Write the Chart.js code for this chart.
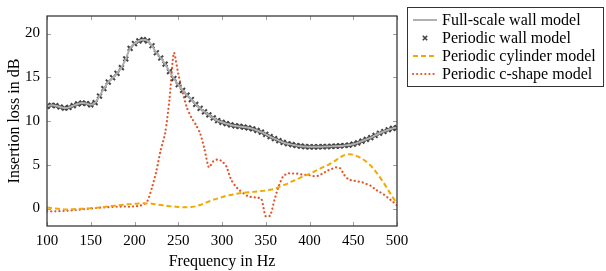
<!DOCTYPE html>
<html>
<head>
<script src="https://cdn.jsdelivr.net/npm/chart.js@4.4.0/dist/chart.umd.min.js"></script>
<style>
  body { margin: 0; background: #fff; }
  canvas { display: block; }
</style>
</head>
<body>
<canvas id="myChart" width="606" height="271"></canvas>
<script>

const freq = [100, 105, 110, 115, 120, 125, 130, 135, 140, 145, 150, 155, 160, 165, 170, 175, 180, 185, 190, 195,
  200, 205, 210, 215, 220, 225, 230, 235, 240, 245, 250, 255, 260, 265, 270, 275, 280, 285, 290, 295,
  300, 305, 310, 315, 320, 325, 330, 335, 340, 345, 350, 355, 360, 365, 370, 375, 380, 385, 390, 395,
  400, 405, 410, 415, 420, 425, 430, 435, 440, 445, 450, 455, 460, 465, 470, 475, 480, 485, 490, 495, 500];

const wallFull = [11.66, 11.8, 11.75, 11.6, 11.48, 11.55, 11.75, 11.95, 12.05, 12.0, 11.85, 12.1, 12.85, 13.7, 14.45, 14.95, 15.45, 16.1, 17.1, 18.3,
  18.85, 19.15, 19.3, 19.15, 18.6, 17.8, 17.2, 16.5, 15.65, 14.85, 14.15, 13.5, 12.95, 12.45, 11.9, 11.45, 11.05, 10.7, 10.35, 10.05,
  9.85, 9.7, 9.55, 9.45, 9.38, 9.3, 9.22, 9.1, 8.92, 8.72, 8.48, 8.22, 7.98, 7.75, 7.55, 7.4, 7.3, 7.2, 7.12, 7.08,
  7.05, 7.05, 7.05, 7.07, 7.08, 7.1, 7.12, 7.15, 7.2, 7.25, 7.35, 7.5, 7.7, 7.9, 8.1, 8.35, 8.6, 8.8, 9.0, 9.15, 9.25];

const wallPeriodic = [11.66, 11.8, 11.75, 11.6, 11.48, 11.55, 11.75, 11.95, 12.05, 12.0, 11.85, 12.1, 12.85, 13.7, 14.45, 14.95, 15.45, 16.1, 17.1, 18.3,
  18.85, 19.15, 19.3, 19.15, 18.6, 17.8, 17.2, 16.5, 15.65, 14.85, 14.15, 13.5, 12.95, 12.45, 11.9, 11.45, 11.05, 10.7, 10.35, 10.05,
  9.85, 9.7, 9.55, 9.45, 9.38, 9.3, 9.22, 9.1, 8.92, 8.72, 8.48, 8.22, 7.98, 7.75, 7.55, 7.4, 7.3, 7.2, 7.12, 7.08,
  7.05, 7.05, 7.05, 7.07, 7.08, 7.1, 7.12, 7.15, 7.2, 7.25, 7.35, 7.5, 7.7, 7.9, 8.1, 8.35, 8.6, 8.8, 9.0, 9.15, 9.25];

const cylinder = [0.1, 0.05, 0.0, -0.05, -0.1, -0.1, -0.08, -0.05, -0.03, 0, 0.03, 0.07, 0.12, 0.18, 0.25, 0.3, 0.35, 0.4, 0.45, 0.5,
  0.55, 0.58, 0.6, 0.58, 0.55, 0.48, 0.4, 0.33, 0.27, 0.22, 0.18, 0.15, 0.15, 0.18, 0.25, 0.4, 0.6, 0.8, 1.0, 1.15,
  1.3, 1.45, 1.55, 1.65, 1.75, 1.8, 1.85, 1.9, 1.95, 2.0, 2.05, 2.15, 2.25, 2.45, 2.65, 2.85, 3.1, 3.3, 3.55, 3.75,
  3.95, 4.2, 4.45, 4.7, 4.9, 5.2, 5.5, 5.85, 6.1, 6.2, 6.15, 5.95, 5.7, 5.35, 4.9, 4.3, 3.65, 2.9, 2.1, 1.3, 0.6];

const cshape = [-0.32, -0.33, -0.32, -0.3, -0.28, -0.25, -0.2, -0.15, -0.1, -0.05, 0, 0.05, 0.1, 0.12, 0.15, 0.18, 0.2, 0.22, 0.22, 0.2,
  0.25, 0.3, 0.45, 0.9, 2.4, 4.3, 6.7, 8.6, 12.5, 17.8, 15.4, 13.3, 11.5, 10.4, 9.6, 8.6, 6.8, 4.7, 5.4, 5.6,
  5.4, 4.8, 3.4, 2.6, 2.1, 1.7, 1.4, 1.3, 1.25, 1.1, -0.9, -0.8, 1.0, 2.6, 3.7, 4.0, 4.0, 4.0, 3.9, 3.85,
  3.8, 3.7, 3.75, 4.0, 4.3, 4.5, 4.7, 4.6, 3.8, 3.3, 3.2, 3.1, 3.0, 2.8, 2.6, 2.2, 1.9, 1.6, 1.2, 0.8, 0.35];

const xTicks = [100, 150, 200, 250, 300, 350, 400, 450, 500];
const yTicks = [0, 5, 10, 15, 20];

const seriesNames = ['Full-scale wall model', 'Periodic wall model', 'Periodic cylinder model', 'Periodic c-shape model'];

function pairs(ys) {
  return ys.map((y, i) => ({ x: freq[i], y: y }));
}

const serif = "'Liberation Serif', 'DejaVu Serif', serif";

// frame with inward ticks, pgfplots style
const framePlugin = {
  id: 'frame',
  afterDatasetsDraw(chart) {
    const ctx = chart.ctx;
    const a = chart.chartArea;
    const xs = chart.scales.x, ys = chart.scales.y;
    ctx.save();
    ctx.strokeStyle = '#888';
    ctx.lineWidth = 0.8;
    ctx.beginPath();
    xTicks.forEach(v => {
      const px = Math.round(xs.getPixelForValue(v)) + 0.5;
      ctx.moveTo(px, a.bottom); ctx.lineTo(px, a.bottom - 4);
      ctx.moveTo(px, a.top); ctx.lineTo(px, a.top + 4);
    });
    yTicks.forEach(v => {
      const py = Math.round(ys.getPixelForValue(v)) + 0.5;
      ctx.moveTo(a.left, py); ctx.lineTo(a.left + 4, py);
      ctx.moveTo(a.right, py); ctx.lineTo(a.right - 4, py);
    });
    ctx.stroke();
    ctx.strokeStyle = '#3a3a3a';
    ctx.lineWidth = 1.3;
    ctx.strokeRect(a.left, a.top, a.right - a.left, a.bottom - a.top);
    ctx.restore();
  }
};

const legendPlugin = {
  id: 'boxLegend',
  afterDraw(chart) {
    const ctx = chart.ctx;
    ctx.save();
    ctx.fillStyle = '#fff';
    ctx.fillRect(407.5, 7.5, 196, 79);
    ctx.strokeStyle = '#333';
    ctx.lineWidth = 1;
    ctx.strokeRect(407.5, 7.5, 196, 79);
    const rows = [20, 38, 56, 74];
    chart.data.datasets.forEach((ds, i) => {
      const y = rows[i];
      ctx.save();
      if (ds.showLine === false) {
        ctx.strokeStyle = ds.pointBorderColor;
        ctx.lineWidth = 1.6;
        const cx = 425, r = 2.2;
        ctx.beginPath();
        ctx.moveTo(cx - r, y - r); ctx.lineTo(cx + r, y + r);
        ctx.moveTo(cx - r, y + r); ctx.lineTo(cx + r, y - r);
        ctx.stroke();
      } else {
        ctx.strokeStyle = ds.borderColor;
        ctx.lineWidth = ds.borderWidth;
        ctx.setLineDash(ds.borderDash || []);
        ctx.lineCap = ds.borderCapStyle || 'butt';
        ctx.beginPath();
        ctx.moveTo(413, y); ctx.lineTo(437, y);
        ctx.stroke();
      }
      ctx.restore();
      ctx.fillStyle = '#000';
      ctx.font = '16px ' + serif;
      ctx.textBaseline = 'middle';
      ctx.fillText(ds.label, 442, y + 1);
    });
    ctx.restore();
  }
};

const config = {
  type: 'line',
  data: {
    datasets: [
      {
        label: seriesNames[0],
        data: pairs(wallFull),
        borderColor: '#b0b0b0',
        borderWidth: 2,
        pointRadius: 0,
        tension: 0.3,
      },
      {
        label: seriesNames[1],
        data: pairs(wallPeriodic),
        showLine: false,
        pointStyle: 'crossRot',
        pointRadius: 3.4,
        pointBorderWidth: 2,
        pointBorderColor: '#424242',
        borderColor: '#424242',
      },
      {
        label: seriesNames[2],
        data: pairs(cylinder),
        borderColor: '#f2a900',
        borderWidth: 2,
        borderDash: [5, 3],
        pointRadius: 0,
        tension: 0.3,
      },
      {
        label: seriesNames[3],
        data: pairs(cshape),
        borderColor: '#e2562c',
        borderWidth: 2.2,
        borderDash: [0.1, 4],
        borderCapStyle: 'round',
        pointRadius: 0,
        tension: 0.25,
      },
    ]
  },
  options: {
    responsive: false,
    animation: false,
    layout: { padding: { top: 2, right: 209, left: 0, bottom: 0 } },
    plugins: {
      legend: { display: false },
      tooltip: { enabled: false },
    },
    scales: {
      x: {
        type: 'linear',
        min: 100,
        max: 500,
        afterBuildTicks: s => { s.ticks = xTicks.map(v => ({ value: v })); },
        afterFit: s => { s.height = 45; },
        grid: { display: false, drawTicks: false },
        border: { display: false },
        ticks: { color: '#000', font: { family: serif, size: 15 }, padding: 6, maxRotation: 0 },
        title: { display: true, text: 'Frequency in Hz', color: '#000', font: { family: serif, size: 16 }, padding: { top: 2, bottom: 0 } },
      },
      y: {
        min: -2,
        max: 22,
        afterBuildTicks: s => { s.ticks = yTicks.map(v => ({ value: v })); },
        afterFit: s => { s.width = 47; },
        grid: { display: false, drawTicks: false },
        border: { display: false },
        ticks: { color: '#000', font: { family: serif, size: 15 }, padding: 7 },
        title: { display: true, text: 'Insertion loss in dB', color: '#000', font: { family: serif, size: 16 }, padding: { top: 5, bottom: 0 } },
      }
    }
  },
  plugins: [framePlugin, legendPlugin]
};

new Chart('myChart', config);
</script>
</body>
</html>
